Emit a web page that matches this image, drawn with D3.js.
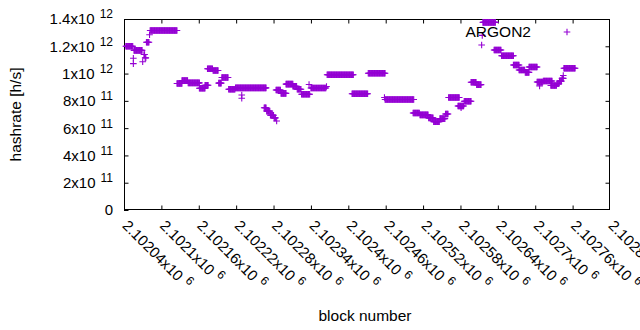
<!DOCTYPE html>
<html>
<head>
<meta charset="utf-8">
<script src="https://cdn.jsdelivr.net/npm/d3@7"></script>
<style>
  body { margin: 0; background: #fff; }
  text { font-family: "Liberation Sans", Arial, sans-serif; fill: #000; }
</style>
</head>
<body>
<script>
// runs of blocks with (roughly) constant hashrate
const runFrom = [2102043, 2102055, 2102055, 2102056, 2102070, 2102072, 2102074, 2102076, 2102081, 2102082,
  2102125, 2102133, 2102143, 2102161, 2102170, 2102174, 2102183, 2102192, 2102197, 2102208,
  2102219, 2102229, 2102229, 2102265, 2102269, 2102275, 2102281, 2102285, 2102284, 2102292,
  2102300, 2102311, 2102318, 2102325, 2102337, 2102340, 2102365, 2102366, 2102406, 2102432,
  2102458, 2102459, 2102504, 2102515, 2102529, 2102537, 2102547, 2102556, 2102561, 2102576,
  2102581, 2102586, 2102597, 2102606, 2102614, 2102615, 2102616, 2102634, 2102646, 2102665,
  2102674, 2102684, 2102690, 2102703, 2102707, 2102713, 2102725, 2102735, 2102739, 2102743,
  2102745, 2102746];
const runTo = [2102054, 2102055, 2102055, 2102069, 2102070, 2102073, 2102075, 2102080, 2102081, 2102125,
  2102133, 2102142, 2102161, 2102170, 2102175, 2102182, 2102191, 2102196, 2102207, 2102218,
  2102268, 2102229, 2102229, 2102268, 2102274, 2102280, 2102283, 2102285, 2102291, 2102300,
  2102311, 2102317, 2102324, 2102338, 2102337, 2102364, 2102365, 2102408, 2102431, 2102459,
  2102458, 2102505, 2102514, 2102528, 2102536, 2102546, 2102555, 2102560, 2102578, 2102585,
  2102581, 2102597, 2102605, 2102613, 2102614, 2102615, 2102636, 2102645, 2102665, 2102674,
  2102683, 2102690, 2102703, 2102712, 2102707, 2102727, 2102734, 2102738, 2102742, 2102745,
  2102745, 2102764];
const runValue = [1.20e12, 1.112e12, 1.073e12, 1.17e12, 1.087e12, 1.14e12, 1.115e12, 1.23e12, 1.285e12, 1.316e12,
  0.927e12, 0.948e12, 0.932e12, 0.892e12, 0.914e12, 1.035e12, 1.022e12, 0.93e12, 0.971e12, 0.885e12,
  0.895e12, 0.843e12, 0.819e12, 0.75e12, 0.725e12, 0.695e12, 0.675e12, 0.652e12, 0.88e12, 0.855e12,
  0.923e12, 0.907e12, 0.885e12, 0.848e12, 0.92e12, 0.894e12, 0.905e12, 0.991e12, 0.852e12, 1.002e12,
  0.825e12, 0.81e12, 0.711e12, 0.697e12, 0.675e12, 0.648e12, 0.67e12, 0.704e12, 0.825e12, 0.762e12,
  0.75e12, 0.797e12, 0.936e12, 0.919e12, 1.209e12, 1.28e12, 1.375e12, 1.173e12, 1.131e12, 1.063e12,
  1.026e12, 1.009e12, 1.048e12, 0.938e12, 0.91e12, 0.946e12, 0.913e12, 0.925e12, 0.945e12, 0.965e12,
  0.986e12, 1.039e12];

const xTicks = [2102040, 2102100, 2102160, 2102220, 2102280, 2102340, 2102400, 2102460, 2102520, 2102580, 2102640, 2102700, 2102760, 2102820];
const xTickLabels = ["2.10204", "2.1021", "2.10216", "2.10222", "2.10228", "2.10234", "2.1024", "2.10246", "2.10252", "2.10258", "2.10264", "2.1027", "2.10276", "2.10282"];
const yTicks = [0, 2e11, 4e11, 6e11, 8e11, 1e12, 1.2e12, 1.4e12];
const yTickMant = ["0", "2", "4", "6", "8", "1", "1.2", "1.4"];
const yTickExp = [null, "11", "11", "11", "11", "12", "12", "12"];

const W = 640, H = 330;
const pLeft = 124, pRight = 610, pTop = 19, pBottom = 210;
const color = "#9400d3";

const svg = d3.select("body").append("svg")
  .attr("width", W)
  .attr("height", H);

const x = d3.scaleLinear().domain([2102040, 2102820]).range([pLeft, pRight]);
const y = d3.scaleLinear().domain([0, 1.4e12]).range([pBottom, pTop]);

// one point per block inside each run
const points = [];
runFrom.forEach((f, i) => {
  for (let b = f; b <= runTo[i]; b++) points.push({ b: b, v: runValue[i] });
});

const supLabel = (sel, mant, exp) => {
  sel.append("tspan").text(mant === "0" ? "0" : mant + "x10");
  if (exp) sel.append("tspan").attr("dx", 5).attr("dy", -6).style("font-size", "12px").text(exp);
};

// y axis (ticks inside, mirrored on right)
const yAxis = svg.append("g")
  .attr("transform", `translate(${pLeft},0)`)
  .call(d3.axisLeft(y).tickValues(yTicks).tickSize(-4.5).tickPadding(11).tickFormat(""));
yAxis.select(".domain").remove();
yAxis.selectAll(".tick text").each(function (d, i) {
  const t = d3.select(this).attr("font-size", 15).attr("dy", "0.33em");
  supLabel(t, yTickMant[i], yTickExp[i]);
});

const yAxisR = svg.append("g")
  .attr("transform", `translate(${pRight},0)`)
  .call(d3.axisRight(y).tickValues(yTicks.slice(1, -1)).tickSize(-4.5).tickFormat(""));
yAxisR.select(".domain").remove();

// x axis
const xAxis = svg.append("g")
  .attr("transform", `translate(0,${pBottom})`)
  .call(d3.axisBottom(x).tickValues(xTicks.slice(1, -1)).tickSize(-4.5).tickFormat(""));
xAxis.select(".domain").remove();

const xAxisT = svg.append("g")
  .attr("transform", `translate(0,${pTop})`)
  .call(d3.axisTop(x).tickValues(xTicks.slice(1, -1)).tickSize(-4.5).tickFormat(""));
xAxisT.select(".domain").remove();

svg.selectAll("g.tick line").attr("stroke", "#000");

svg.append("g").selectAll("text")
  .data(xTicks)
  .join("text")
  .attr("transform", d => `translate(${x(d) + 1},${pBottom + 13}) rotate(45)`)
  .attr("font-size", 15)
  .attr("dy", "0.33em")
  .each(function (d, i) {
    supLabel(d3.select(this), xTickLabels[i], "6");
  });

// frame
svg.append("rect")
  .attr("x", pLeft + 0.5)
  .attr("y", pTop + 0.5)
  .attr("width", pRight - pLeft - 1)
  .attr("height", pBottom - pTop - 1)
  .attr("fill", "none")
  .attr("stroke", "#000");

// axis titles
svg.append("text")
  .attr("transform", `translate(21,${(pTop + pBottom) / 2}) rotate(-90)`)
  .attr("text-anchor", "middle")
  .attr("font-size", 15.5)
  .text("hashrate [h/s]");

svg.append("text")
  .attr("x", 365)
  .attr("y", 321)
  .attr("text-anchor", "middle")
  .attr("font-size", 15.5)
  .text("block number");

// points
const plus = "M-3.3,0H3.3M0,-3.3V3.3";
svg.append("g").selectAll("path")
  .data(points)
  .join("path")
  .attr("transform", d => `translate(${x(d.b)},${y(d.v)})`)
  .attr("d", plus)
  .attr("fill", "none")
  .attr("stroke", color)
  .attr("stroke-width", 1.1);

// key
svg.append("text")
  .attr("x", 531)
  .attr("y", 37)
  .attr("text-anchor", "end")
  .attr("font-size", 15.5)
  .text("ARGON2");

svg.append("path")
  .attr("transform", "translate(567,32)")
  .attr("d", plus)
  .attr("fill", "none")
  .attr("stroke", color)
  .attr("stroke-width", 1.1);
</script>
</body>
</html>
